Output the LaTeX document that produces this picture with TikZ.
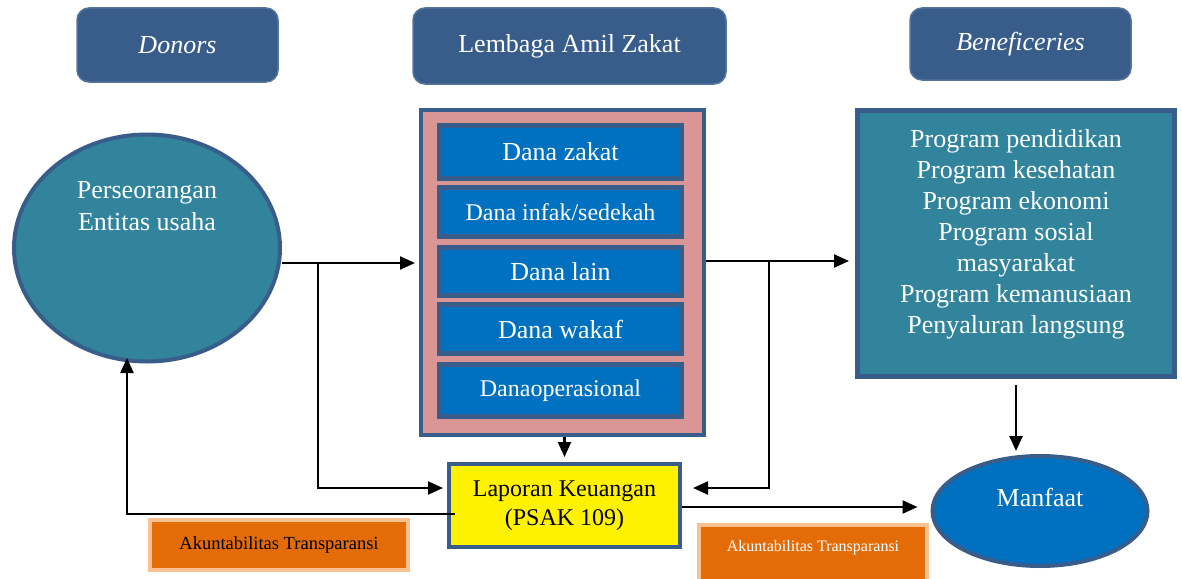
\documentclass[tikz,border=0pt]{standalone}
\usepackage{fontspec}
\setmainfont{Liberation Serif}
\usetikzlibrary{shapes.geometric,arrows.meta}
\definecolor{hdr}{HTML}{385D8A}
\definecolor{teal}{HTML}{31849B}
\definecolor{pinkbg}{HTML}{D99694}
\definecolor{bluebox}{HTML}{0070C0}
\definecolor{orangebox}{HTML}{E36C09}
\definecolor{orangeline}{HTML}{FAC090}
\begin{document}
\begin{tikzpicture}[x=1pt,y=-1pt,
  hdrbox/.style={draw=hdr!85!white,line width=1.5pt,fill=hdr,rounded corners=12pt,text=white,inner sep=0pt,font=\fontsize{26}{31}\selectfont},
  tealell/.style={ellipse,draw=hdr,line width=4pt,fill=teal,inner sep=0pt},
  outerbox/.style={draw=hdr,line width=4pt,fill=pinkbg,inner sep=0pt},
  fundbox/.style={draw=hdr,line width=5pt,fill=bluebox,text=white,inner sep=0pt,minimum width=242pt,font=\fontsize{26}{31}\selectfont},
  benbox/.style={draw=hdr,line width=5pt,fill=teal,inner sep=0pt},
  wtxt/.style={text=white,align=center,inner sep=0pt,font=\fontsize{26}{31}\selectfont},
  lapbox/.style={draw=hdr,line width=4pt,fill=yellow,align=center,inner sep=0pt,font=\fontsize{24}{29}\selectfont},
  akbox/.style={draw=orangeline,line width=4pt,fill=orangebox,inner sep=0pt},
  manell/.style={ellipse,draw=hdr,line width=4pt,fill=bluebox,inner sep=0pt},
  conn/.style={line width=2.3pt,draw=black},
  arr/.style={conn,-{Triangle[length=15pt,width=13pt]}}
]
\useasboundingbox (0,0) rectangle (1182,578);

% headers
\node[hdrbox,minimum width=201pt,minimum height=74pt] (hdon) at (177.5,45) {\itshape Donors};
\node[hdrbox,minimum width=313pt,minimum height=76pt] (hlaz) at (569.5,46) {Lembaga Amil Zakat};
\node[hdrbox,minimum width=221pt,minimum height=72pt] (hben) at (1020.5,44) {\itshape Beneficeries};

% donors
\node[tealell,minimum width=266pt,minimum height=227pt] (donor) at (147,248) {};
\node[wtxt,font=\fontsize{26}{32}\selectfont] (donortxt) at (147,206) {Perseorangan\\Entitas usaha};

% LAZ
\node[outerbox,minimum width=283pt,minimum height=325pt] (laz) at (562.5,272.5) {};
\node[fundbox,minimum height=53pt] (f1) at (560.5,152) {Dana zakat};
\node[fundbox,minimum height=49pt,font=\fontsize{24}{29}\selectfont] (f2) at (560.5,212) {Dana infak/sedekah};
\node[fundbox,minimum height=48pt] (f3) at (560.5,271.5) {Dana lain};
\node[fundbox,minimum height=49pt] (f4) at (560.5,329) {Dana wakaf};
\node[fundbox,minimum height=52pt,font=\fontsize{24}{29}\selectfont] (f5) at (560.5,390.5) {Danaoperasional};

% beneficiaries
\node[benbox,minimum width=317pt,minimum height=266pt] (ben) at (1016,243.5) {};
\node[wtxt,anchor=north] (bentxt) at (1016,129) {Program pendidikan\\Program kesehatan\\Program ekonomi\\Program sosial\\masyarakat\\Program kemanusiaan\\Penyaluran langsung};

% laporan
\node[lapbox,minimum width=231pt,minimum height=83pt] (lap) at (564.5,505.5) {Laporan Keuangan\\(PSAK 109)};

% manfaat
\node[manell,minimum width=215pt,minimum height=110pt] (man) at (1040,511) {};
\node[wtxt] (mantxt) at (1040,497) {Manfaat};

% akuntabilitas
\node[akbox,minimum width=258pt,minimum height=50pt,font=\fontsize{18.5}{22}\selectfont] (ak1) at (279,545) {Akuntabilitas Transparansi};
\node[akbox,minimum width=228pt,minimum height=58pt] (ak2) at (813,554) {};
\node[text=white,inner sep=0pt,font=\fontsize{16}{19}\selectfont] (ak2txt) at (813,548) {Akuntabilitas Transparansi};

% connectors
\coordinate (ya) at (0,263);
\coordinate (b1) at (318,263);
\coordinate (b2) at (318,488);
\draw[arr,shorten >=4pt] (donor.east |- ya) -- (laz.west |- ya);
\draw[arr,shorten >=4pt] (b1) -- (b2) -- (lap.west |- b2);

\coordinate (yb) at (0,261);
\coordinate (c1) at (769,261);
\coordinate (c2) at (769,488);
\draw[arr,shorten >=6pt] (laz.east |- yb) -- (ben.west |- yb);
\draw[arr,shorten >=11pt] (c1) -- (c2) -- (lap.east |- c2);

\draw[arr,shorten >=5pt] (lap.north |- laz.south) -- (lap.north);

\coordinate (d1) at (455,514);
\coordinate (d2) at (127,514);
\coordinate (d3) at (127,358);
\draw[arr] (d1) -- (d2) -- (d3);

\coordinate (ye) at (0,507);
\draw[arr,shorten >=13pt] (lap.east |- ye) -- (man.west |- ye);

\draw[arr,shorten <=6pt,shorten >=3pt] (ben.south) -- (ben.south |- man.north);
\end{tikzpicture}
\end{document}
